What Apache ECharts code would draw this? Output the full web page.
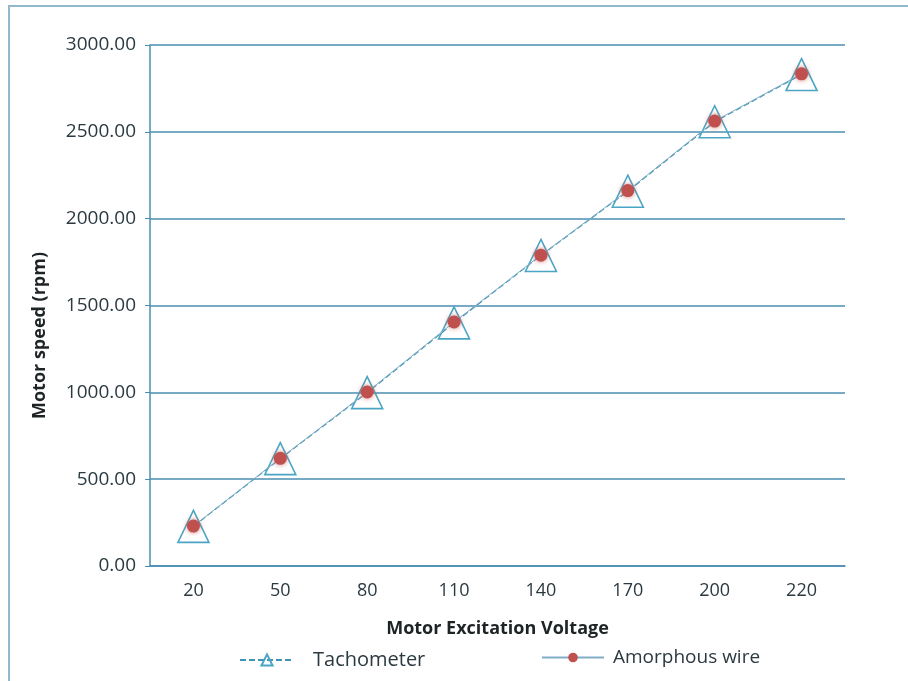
<!DOCTYPE html>
<html>
<head>
<meta charset="utf-8">
<script src="https://cdn.jsdelivr.net/npm/echarts@6/dist/echarts.min.js"></script>
<style>
  html, body { margin: 0; padding: 0; background: #fff; }
  #chart { width: 908px; height: 681px; }
</style>
</head>
<body>
<div id="chart"></div>
<script>
// excitation voltage categories and the two speed readings (rpm)
const voltages = ['20', '50', '80', '110', '140', '170', '200', '220'];
const tachometer = [228, 618, 998, 1400, 1788, 2158, 2558, 2830];
const amorphousWire = [230, 620, 1002, 1405, 1790, 2162, 2562, 2834];

const FONT = '"Open Sans", "DejaVu Sans", sans-serif';
const GRID_BLUE = '#4a8fb2';

const chart = echarts.init(document.getElementById('chart'), null, { renderer: 'canvas' });
chart.setOption({
  backgroundColor: '#fff',
  animation: false,
  textStyle: { fontFamily: FONT },
  graphic: [{
    type: 'rect',
    shape: { x: 9, y: 6, width: 1000, height: 800 },
    style: { fill: 'none', stroke: '#93b7cc', lineWidth: 2 },
    silent: true
  }],
  grid: { left: 150, right: 63, top: 45, bottom: 115 },
  legend: [{
    left: 234, top: 645,
    itemWidth: 54, itemHeight: 14,
    data: ['Tachometer'],
    textStyle: { fontFamily: FONT, fontSize: 20, color: '#2b3a40', padding: [0, 0, 0, 14] }
  }, {
    left: 536, top: 643,
    itemWidth: 62, itemHeight: 12,
    data: ['Amorphous wire'],
    textStyle: { fontFamily: FONT, fontSize: 19, color: '#2b3a40', padding: [0, 0, 0, 4] }
  }],
  xAxis: {
    type: 'category',
    data: voltages,
    boundaryGap: true,
    name: 'Motor Excitation Voltage',
    nameLocation: 'middle',
    nameGap: 54,
    nameTextStyle: { fontFamily: FONT, fontSize: 18, fontWeight: 'bold', color: '#1e2326' },
    axisLine: { lineStyle: { color: GRID_BLUE, width: 1.5 } },
    axisTick: { show: false },
    axisLabel: { margin: 16, fontFamily: FONT, fontSize: 18, color: '#2b3a40' }
  },
  yAxis: {
    type: 'value',
    min: 0, max: 3000, interval: 500,
    name: 'Motor speed (rpm)',
    nameLocation: 'middle',
    nameGap: 101,
    nameTextStyle: { fontFamily: FONT, fontSize: 18, fontWeight: 'bold', color: '#1e2326', padding: [0, 60, 0, 0] },
    axisLine: { show: true, lineStyle: { color: GRID_BLUE, width: 1.5 } },
    axisTick: { show: true, length: 5, lineStyle: { color: GRID_BLUE } },
    axisLabel: {
      margin: 14, fontFamily: FONT, fontSize: 19, color: '#2b3a40',
      formatter: v => v.toFixed(2)
    },
    splitLine: { lineStyle: { color: GRID_BLUE, width: 1.5 } }
  },
  series: [{
    name: 'Tachometer',
    type: 'line',
    data: tachometer,
    symbol: 'triangle',
    symbolSize: [31, 32],
    lineStyle: { color: '#3f93b8', width: 1.2, type: [6, 3] },
    itemStyle: { color: 'rgba(255,255,255,0)', borderColor: '#4aa5c4', borderWidth: 1.6 },
    z: 2
  }, {
    name: 'Amorphous wire',
    type: 'line',
    data: amorphousWire,
    symbol: 'circle',
    symbolSize: 13,
    lineStyle: { color: '#7faec6', width: 1 },
    itemStyle: { color: '#c0504d', borderWidth: 0, shadowBlur: 5, shadowColor: 'rgba(192,80,77,0.7)' },
    z: 3
  }]
});
</script>
</body>
</html>
